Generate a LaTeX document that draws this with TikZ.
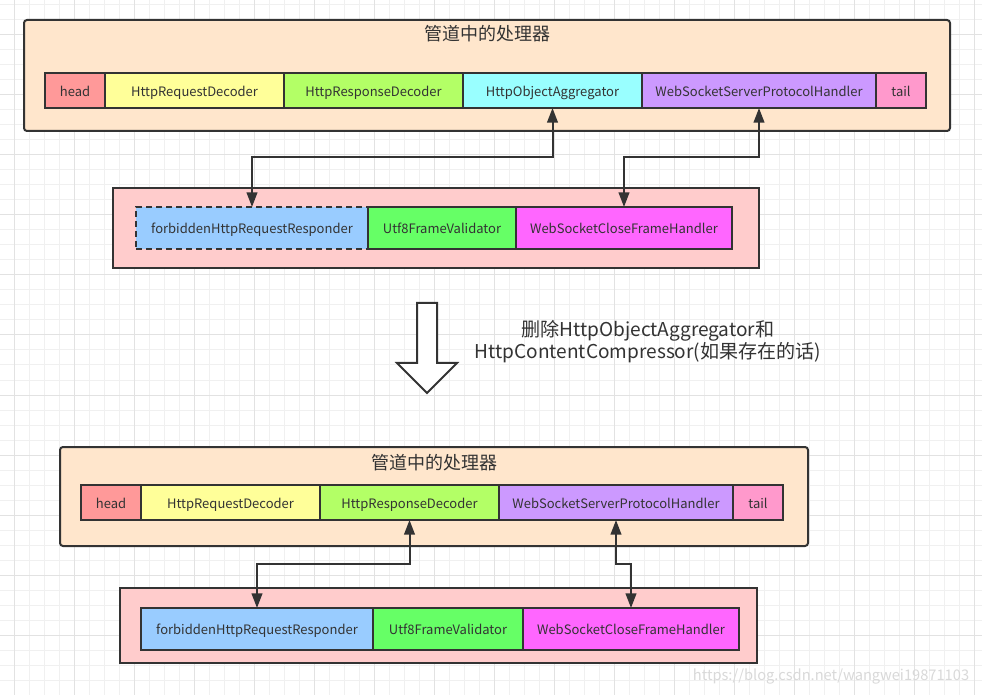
\documentclass[tikz,border=0pt]{standalone}
\usepackage{fontspec}
\setmainfont{Noto Sans CJK SC}
\usepackage{tikz}
\usetikzlibrary{calc}
\usetikzlibrary{positioning}
\usetikzlibrary{arrows.meta}
\definecolor{linegray}{HTML}{333333}
\definecolor{textgray}{HTML}{333333}
\definecolor{gridminor}{HTML}{F0F0F0}
\definecolor{gridmajor}{HTML}{E2E2E2}
\definecolor{pipefill}{HTML}{FFE6CC}
\definecolor{extfill}{HTML}{FFCCCC}
\definecolor{headred}{HTML}{FF9999}
\definecolor{reqyellow}{HTML}{FFFF99}
\definecolor{respgreen}{HTML}{B3FF66}
\definecolor{aggrcyan}{HTML}{99FFFF}
\definecolor{protopurple}{HTML}{CC99FF}
\definecolor{tailpink}{HTML}{FF99CC}
\definecolor{forbidblue}{HTML}{99CCFF}
\definecolor{utfgreen}{HTML}{66FF66}
\definecolor{closemagenta}{HTML}{FF66FF}
\newdimen\px
\px=0.75pt

\begin{document}
\begin{tikzpicture}[x=0.75pt,y=-0.75pt,>={Triangle[length=11pt,width=8pt]},
	  box/.style={draw=linegray,line width=1.5pt,outer sep=0pt,inner sep=0pt,minimum height=35\px,
	    text height=9.5pt,text depth=1pt,text=textgray,font=\fontsize{9.75}{12}\selectfont},
	  ext box/.style={box,minimum height=42\px},
	  pipe/.style={draw=linegray,line width=1.5pt,fill=pipefill,rounded corners=3\px,outer sep=0pt},
	  ext/.style={draw=linegray,line width=1.5pt,fill=extfill,outer sep=0pt},
	  title/.style={text=textgray,font=\fontsize{13.5}{16}\selectfont},
	  link/.style={<->,draw=linegray,line width=1.5pt}]

	  \useasboundingbox (0,0) rectangle (982,695);
	  \fill[white] (0,0) rectangle (982,695);
	  \foreach \i in {0,...,65}
	    \draw[gridminor,line width=0.75pt] ({14.5+15*\i},0) -- ({14.5+15*\i},695);
	  \foreach \i in {0,...,46}
	    \draw[gridminor,line width=0.75pt] (0,{5+15*\i}) -- (982,{5+15*\i});
	  \foreach \i in {0,...,16}
	    \draw[gridmajor,line width=0.75pt] ({14.5+60*\i},0) -- ({14.5+60*\i},695);
	  \foreach \i in {0,...,11}
	    \draw[gridmajor,line width=0.75pt] (0,{35+60*\i}) -- (982,{35+60*\i});

	  \node[pipe, minimum width=926\px, minimum height=111\px] (pipe) at (487,75.5) {};
	  \node[title] (pipetitle) at ($ (pipe.north) + (0,14) $) {管道中的处理器};
	  \node[box, fill=headred, minimum width=60\px] (head) at (75,90.5) {head};
	  \node[box, fill=reqyellow, minimum width=179\px, right=0pt of head] (reqdec) {HttpRequestDecoder};
	  \node[box, fill=respgreen, minimum width=179\px, right=0pt of reqdec] (respdec) {HttpResponseDecoder};
	  \node[box, fill=aggrcyan, minimum width=179\px, right=0pt of respdec] (aggr) {HttpObjectAggregator};
	  \node[box, fill=protopurple, minimum width=234\px, right=0pt of aggr] (wsproto) {WebSocketServerProtocolHandler};
	  \node[box, fill=tailpink, minimum width=50\px, right=0pt of wsproto] (tail) {tail};

	  \node[ext, minimum width=646\px, minimum height=80\px] (ext) at (436,227.7) {};
	  \node[ext box, fill=forbidblue, dashed, dash pattern=on 6\px off 4\px, minimum width=232\px] (forbid) at (252,228) {forbiddenHttpRequestResponder};
	  \node[ext box, fill=utfgreen, minimum width=148\px, right=0pt of forbid] (utf8) {Utf8FrameValidator};
	  \node[ext box, fill=closemagenta, minimum width=216\px, right=0pt of utf8] (wsclose) {WebSocketCloseFrameHandler};

	  \coordinate (bend) at (0,157);
	  \draw[link] (aggr.south) -- (aggr.south |- bend) -| (forbid.north);
	  \draw[link] (wsproto.south) -- (wsproto.south |- bend) -| (wsclose.north);

	  \draw[linegray, line width=1.5pt, fill=white, line join=miter]
	    (417,303) -- (437,303) -- (437,363) -- (457,363) -- (427,393) -- (397,363) -- (417,363) -- cycle;
	  \node[text=textgray, align=center, font=\fontsize{14.3}{16.5}\selectfont] (remove) at (648,342)
	    {删除HttpObjectAggregator和\\HttpContentCompressor(如果存在的话)};

	  \node[pipe, minimum width=748\px, minimum height=99\px] (pipe2) at (434,496.5) {};
	  \node[title] (pipetitle2) at ($ (pipe2.north) + (0,16) $) {管道中的处理器};
	  \node[box, fill=headred, minimum width=60\px] (head2) at (111,502.5) {head};
	  \node[box, fill=reqyellow, minimum width=179\px, right=0pt of head2] (reqdec2) {HttpRequestDecoder};
	  \node[box, fill=respgreen, minimum width=179\px, right=0pt of reqdec2] (respdec2) {HttpResponseDecoder};
	  \node[box, fill=protopurple, minimum width=234\px, right=0pt of respdec2] (wsproto2) {WebSocketServerProtocolHandler};
	  \node[box, fill=tailpink, minimum width=50\px, right=0pt of wsproto2] (tail2) {tail};

	  \node[ext, minimum width=637\px, minimum height=75\px] (ext2) at (438.5,625.2) {};
	  \node[ext box, fill=forbidblue, minimum width=232\px] (forbid2) at (257,629) {forbiddenHttpRequestResponder};
	  \node[ext box, fill=utfgreen, minimum width=150\px, right=0pt of forbid2] (utf82) {Utf8FrameValidator};
	  \node[ext box, fill=closemagenta, minimum width=216\px, right=0pt of utf82] (wsclose2) {WebSocketCloseFrameHandler};

	  \coordinate (bend2) at (0,564);
	  \draw[link] (respdec2.south) -- (respdec2.south |- bend2) -| (forbid2.north);
	  \draw[link] (wsproto2.south) -- (wsproto2.south |- bend2) -| (wsclose2.north);

	  \node[text=gray!30, font=\fontsize{11}{13}\selectfont] (mark) at (831,676) {https://blog.csdn.net/wangwei19871103};
	\end{tikzpicture}
\end{document}
